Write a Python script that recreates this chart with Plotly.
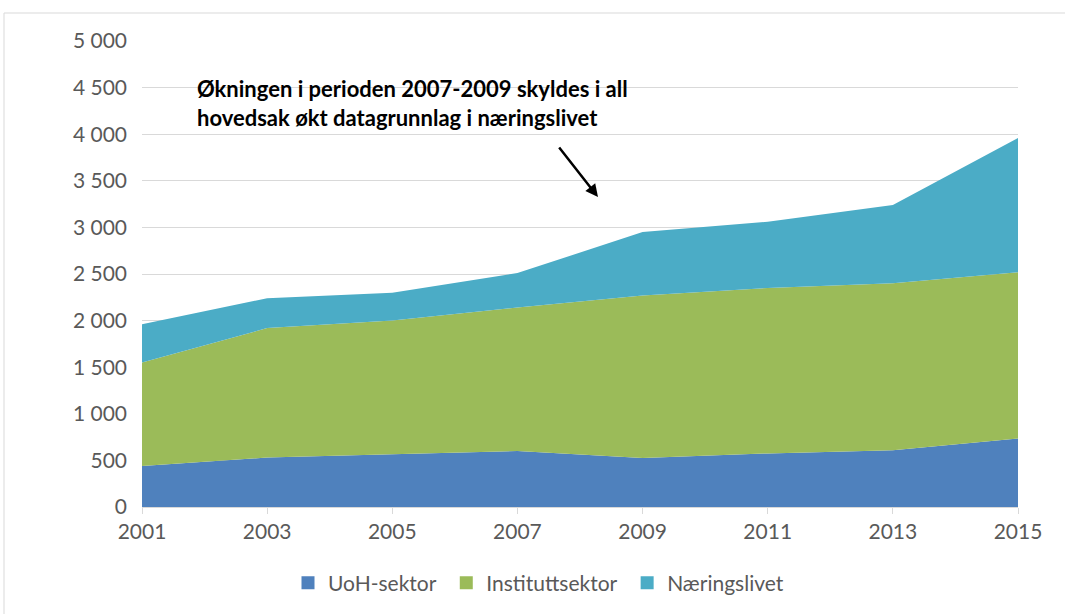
import plotly.graph_objects as go

years = [2001, 2003, 2005, 2007, 2009, 2011, 2013, 2015]
uoh = [440, 530, 565, 600, 525, 575, 610, 735]
institutt = [1110, 1390, 1435, 1540, 1745, 1775, 1790, 1785]
naering = [410, 320, 300, 370, 680, 710, 840, 1440]

series = [("UoH-sektor", uoh, "#4F81BD"),
          ("Instituttsektor", institutt, "#9BBB59"),
          ("Næringslivet", naering, "#4BACC6")]

FONT = "Lato"
PAD = "\u00a0"
fig = go.Figure()
for name, vals, col in series:
    fig.add_trace(go.Scatter(x=years, y=vals, name=name, stackgroup="one",
                             mode="lines", line=dict(width=0, color=col),
                             fillcolor=col, showlegend=False, hoverinfo="x+y"))
for name, vals, col in series:
    fig.add_trace(go.Scatter(x=[None], y=[None], name=name + PAD, mode="markers",
                             marker=dict(symbol="square", size=13, color=col)))

fig.update_layout(
    width=1065, height=614,
    margin=dict(l=142, r=47, t=41, b=107, autoexpand=False),
    paper_bgcolor="white", plot_bgcolor="white",
    font=dict(family=FONT, size=21, color="#595959"),
    xaxis=dict(range=[2001, 2015], tickvals=years, ticktext=[str(y) for y in years],
               showgrid=False, showline=True, linecolor="#d9d9d9", linewidth=1,
               ticks="outside", ticklen=6, tickcolor="#d9d9d9", zeroline=False),
    yaxis=dict(range=[0, 5000], tickvals=list(range(0, 5001, 500)),
               ticktext=["0", "500", "1 000", "1 500", "2 000", "2 500", "3 000",
                         "3 500", "4 000", "4 500", "5 000"],
               showgrid=True, gridcolor="#d9d9d9", gridwidth=1, zeroline=False,
               ticks="", ticklabelstandoff=14),
    legend=dict(orientation="h", x=(288 - 142) / 876, xanchor="left",
                y=(507 - 583) / 466, yanchor="middle",
                traceorder="normal",
                font=dict(size=21, color="#595959"), itemwidth=30),
    showlegend=True,
)

fig.add_annotation(xref="paper", yref="paper", x=(195 - 142) / 876, y=(507 - 73) / 466,
                   xanchor="left", yanchor="top", align="left", showarrow=False,
                   text="<b>Økningen i perioden 2007-2009 skyldes i all<br>hovedsak økt datagrunnlag i næringslivet</b>",
                   font=dict(family=FONT, size=22, color="black"))
fig.add_annotation(xref="paper", yref="paper", x=(598 - 142) / 876, y=(507 - 197) / 466,
                   ax=-40, ay=-51, showarrow=True, arrowhead=2, arrowsize=1,
                   arrowwidth=2.5, arrowcolor="black", text="")
fig.add_shape(type="rect", xref="paper", yref="paper",
              x0=(4 - 142) / 876, x1=(1075 - 142) / 876,
              y0=(507 - 625) / 466, y1=(507 - 13) / 466,
              line=dict(color="#d9d9d9", width=1))

fig.write_html("out.html", config={"displayModeBar": False},
               post_script="document.body.style.margin='0';")
